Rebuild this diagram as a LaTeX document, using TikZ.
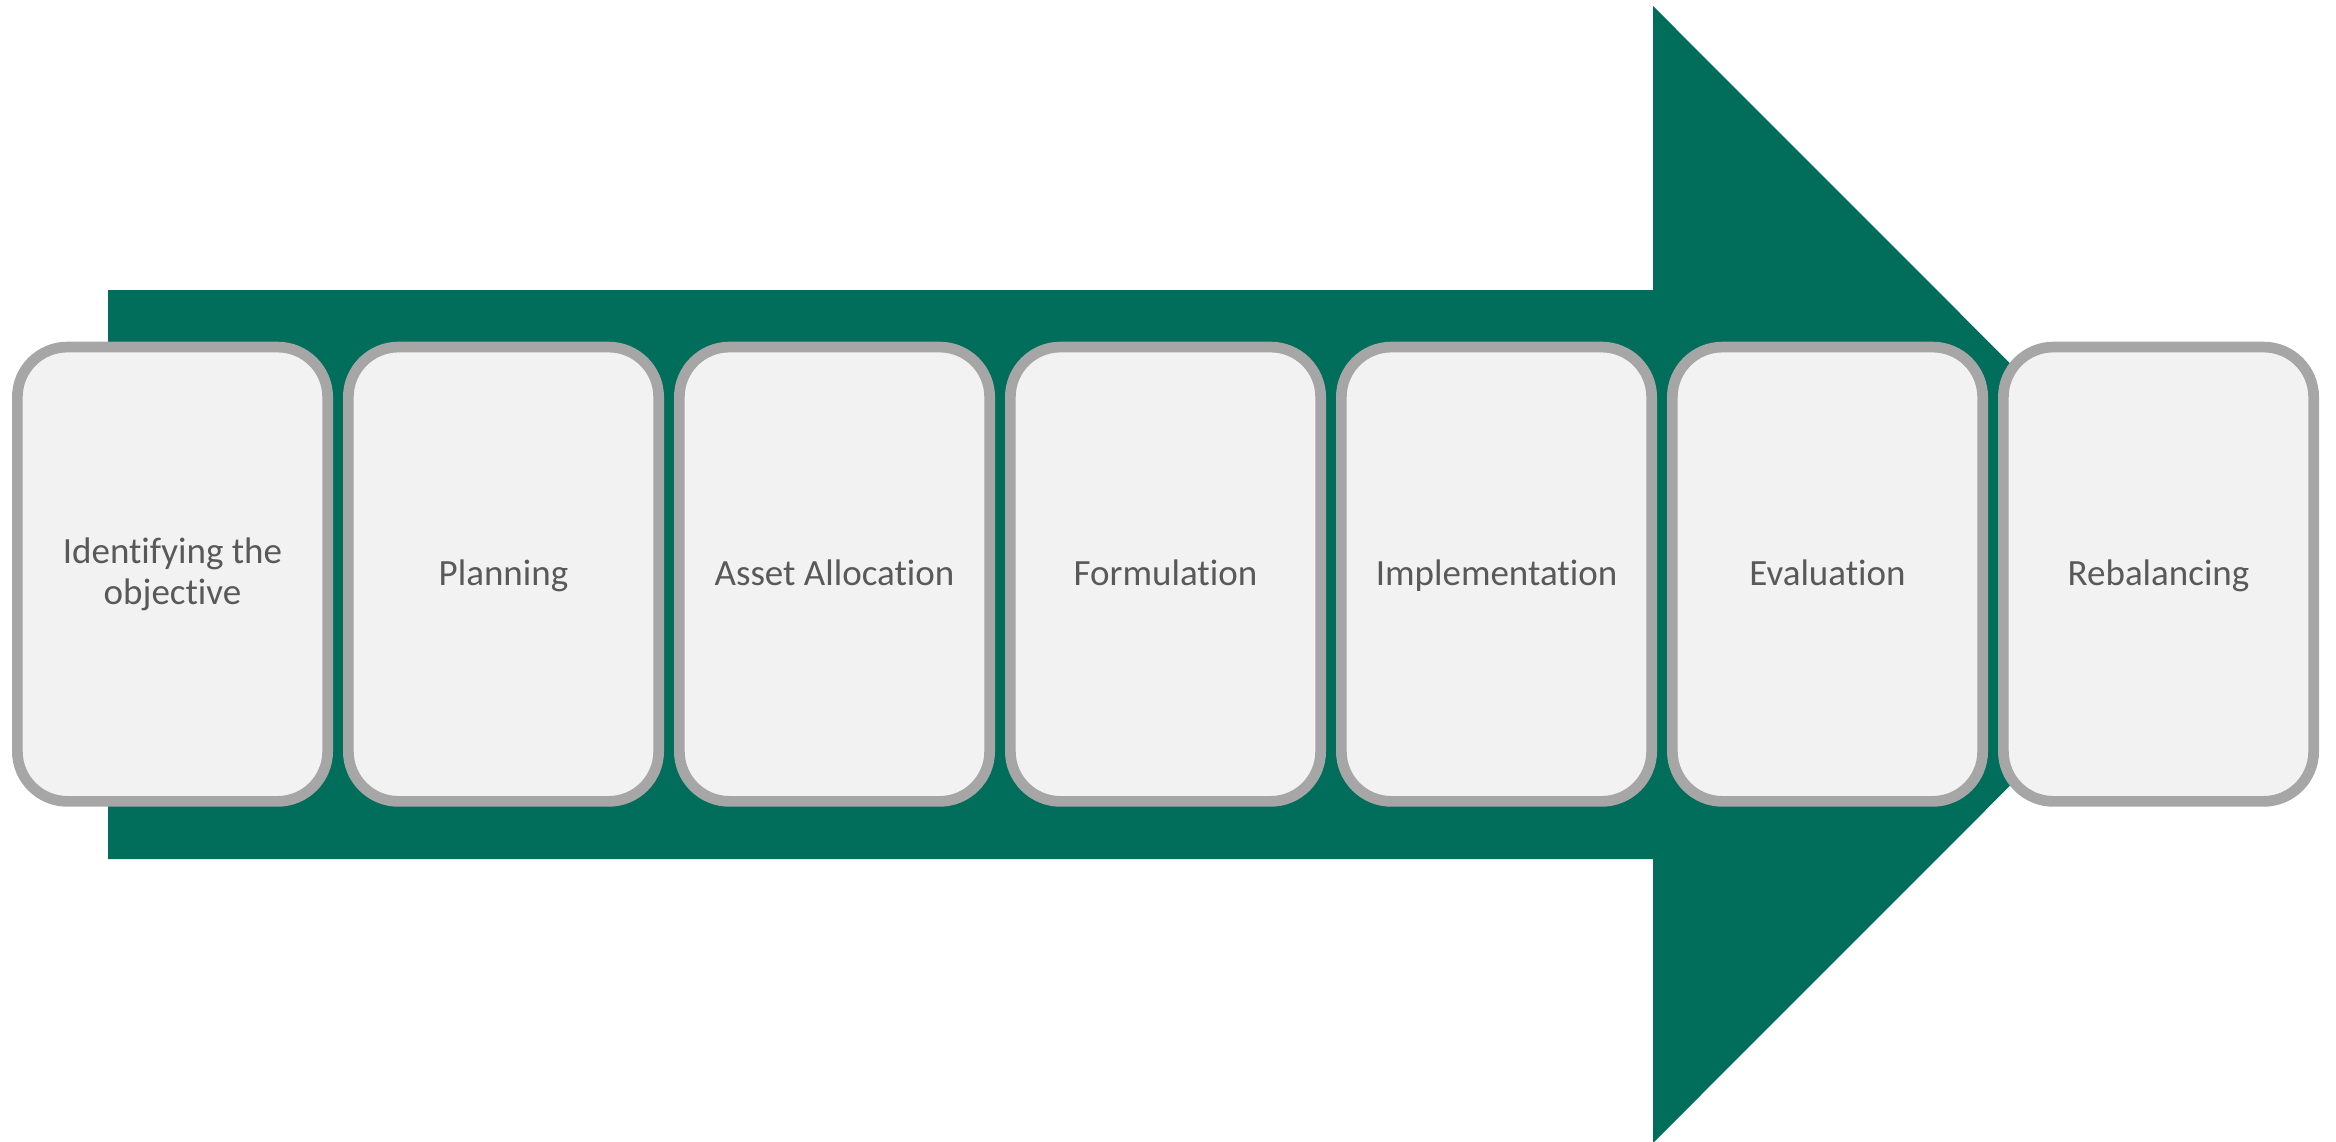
\documentclass[tikz,border=0pt]{standalone}
\usepackage{fontspec}
\setmainfont[Ligatures=NoCommon]{Carlito}
\definecolor{arrowgreen}{RGB}{0,110,91}
\definecolor{boxfill}{RGB}{242,242,242}
\definecolor{boxline}{RGB}{166,166,166}
\definecolor{txt}{RGB}{89,89,89}
\begin{document}
\begin{tikzpicture}[x=1pt,y=-1pt,
  boxbase/.style={draw=boxline, fill=boxfill, line width=10.7pt, rounded corners=50pt,
    minimum width=310.3pt, minimum height=454.3pt, inner sep=0pt, align=center,
    text=txt, font=\fontsize{37}{40.5}\selectfont},
  stepbox/.style={boxbase, text height=30pt, text depth=7.4pt}]
\useasboundingbox (0,0) rectangle (2336,1141);
\fill[arrowgreen] (108,290) -- (1653,290) -- (1653,6) -- (2221,574.5) -- (1653,1143)
  -- (1653,859) -- (108,859) -- cycle;
\node[boxbase] (s1) at (172.5,574.2) {Identifying the\\objective};
\node[stepbox] (s2) at (503.5,574.2) {Planning};
\node[stepbox] (s3) at (834.5,574.2) {Asset Allocation};
\node[stepbox] (s4) at (1165.5,574.2) {Formulation};
\node[stepbox] (s5) at (1496.5,574.2) {Implementation};
\node[stepbox] (s6) at (1827.5,574.2) {Evaluation};
\node[stepbox] (s7) at (2158.5,574.2) {Rebalancing};
\end{tikzpicture}
\end{document}
